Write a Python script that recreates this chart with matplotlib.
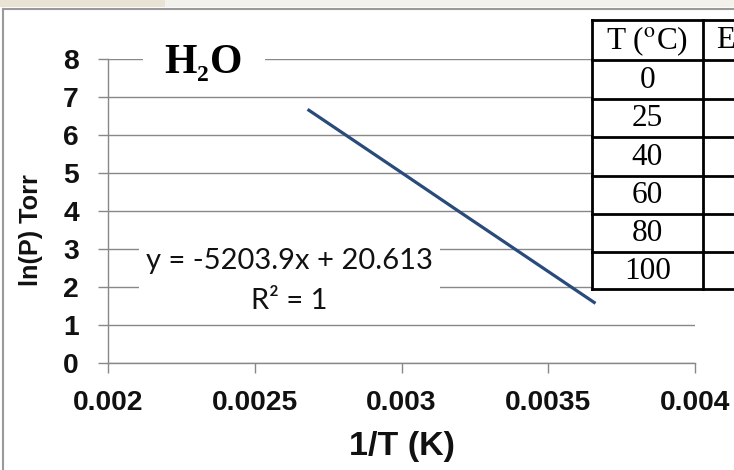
import matplotlib
matplotlib.use("Agg")
import matplotlib.pyplot as plt
from matplotlib.patches import Rectangle
from matplotlib.lines import Line2D

# Vapour pressure of water: ln(P / Torr) against 1/T
temps_c = [0, 25, 40, 60, 80, 100]
inv_t = [0.003661, 0.003354, 0.003193, 0.003002, 0.002832, 0.002680]
ln_p = [1.562, 3.159, 3.995, 4.993, 5.877, 6.667]

x_ticks = [0.002, 0.0025, 0.003, 0.0035, 0.004]
x_tick_labels = ["0.002", "0.0025", "0.003", "0.0035", "0.004"]
y_ticks = [0, 1, 2, 3, 4, 5, 6, 7, 8]

trend_text = "y = -5203.9x + 20.613"
r2_text = "R\u00b2 = 1"
table_header = ["T ($^{\\mathrm{o}}$C)", "E"]

W, H = 734, 470
plt.rcParams["mathtext.fontset"] = "stix"
fig = plt.figure(figsize=(W / 100, H / 100), dpi=100)
fig.patch.set_facecolor("white")


def fx(px):
    return px / W


def fy(py):
    return 1 - py / H


grid_col = "#888888"
bold_sans = "Liberation Sans"
text_col = "#111111"

ax = fig.add_axes([fx(108), fy(362.7), fx(695) - fx(108), fy(58.7) - fy(362.7)])
ax.set_facecolor("none")
ax.set_xlim(0.002, 0.004)
ax.set_ylim(0, 8)
ax.set_xticks(x_ticks)
ax.set_xticklabels(x_tick_labels)
ax.set_yticks(y_ticks)
for s in ("top", "right"):
    ax.spines[s].set_visible(False)
for s in ("left", "bottom"):
    ax.spines[s].set_color(grid_col)
    ax.spines[s].set_linewidth(1.0)
ax.grid(axis="y", color=grid_col, linewidth=1.0)
ax.set_axisbelow(True)
ax.tick_params(axis="both", direction="out", length=7.5, width=1.0, color=grid_col)
ax.tick_params(axis="y", pad=13.5)
ax.tick_params(axis="x", pad=12.5)
for lab in ax.get_xticklabels() + ax.get_yticklabels():
    lab.set_fontfamily(bold_sans)
    lab.set_fontweight("bold")
    lab.set_fontsize(20.3)
    lab.set_color(text_col)

ax.plot(inv_t, ln_p, color="#284B7B", linewidth=2.3, solid_capstyle="butt", zorder=3)

# Trendline equation
ax.text(0.002617, 2.15, trend_text + "\n" + r2_text, transform=ax.transData,
        ha="center", va="center", fontsize=21, fontfamily="Lato",
        linespacing=1.62, color=text_col,
        bbox=dict(facecolor="white", edgecolor="none", pad=5), zorder=4)

# Chart title: H, subscript 2, O
fig.patches.append(Rectangle((fx(143), fy(86)), fx(265) - fx(143), fy(36) - fy(86),
                             transform=fig.transFigure, facecolor="white",
                             edgecolor="none", zorder=2))
title_font = dict(fontfamily="Liberation Serif", fontweight="bold", color="black", zorder=3)
fig.text(fx(164.5), fy(73), "H", ha="left", va="baseline", fontsize=30, **title_font)
fig.text(fx(197), fy(81), "2", ha="left", va="baseline", fontsize=17, **title_font)
fig.text(fx(210), fy(73), "O", ha="left", va="baseline", fontsize=30, **title_font)

# Axis titles
fig.text(fx(31), fy(230), "ln(P) Torr", rotation=90, ha="center", va="center",
         fontsize=18.2, fontweight="bold", fontfamily=bold_sans, color=text_col)
fig.text(fx(402), fy(447), "1/T (K)", ha="center", va="center",
         fontsize=24.5, fontweight="bold", fontfamily=bold_sans, color=text_col)

# Data table
tl, tc, tr = 592, 703, 760
row_edges = [20, 60, 98.5, 137, 175.5, 214, 252, 289]
fig.patches.append(Rectangle((fx(tl), fy(row_edges[-1])), fx(tr) - fx(tl),
                             fy(row_edges[0]) - fy(row_edges[-1]),
                             transform=fig.transFigure, facecolor="white",
                             edgecolor="none", zorder=5))
for yy in row_edges:
    fig.lines.append(Line2D([fx(tl), fx(tr)], [fy(yy), fy(yy)], transform=fig.transFigure,
                            color="black", linewidth=2.0, zorder=6))
for xx in (tl, tc):
    fig.lines.append(Line2D([fx(xx), fx(xx)], [fy(row_edges[0]), fy(row_edges[-1])],
                            transform=fig.transFigure, color="black", linewidth=2.0, zorder=6))
cells = [table_header[0]] + [str(t) for t in temps_c]
for i, txt in enumerate(cells):
    yc = (row_edges[i] + row_edges[i + 1]) / 2
    fig.text(fx((tl + tc) / 2), fy(yc + 1), txt, ha="center", va="center",
             fontsize=22.5, fontfamily="Liberation Serif", color="black", zorder=7)
fig.text(fx(716), fy((row_edges[0] + row_edges[1]) / 2 + 1), table_header[1],
         ha="left", va="center", fontsize=22.5, fontfamily="Liberation Serif",
         color="black", zorder=7)

# Window strip and chart frame
fig.patches.append(Rectangle((0, fy(7)), fx(165), fy(0) - fy(7), transform=fig.transFigure,
                             facecolor="#E8E3D4", edgecolor="none", zorder=8))
fig.patches.append(Rectangle((fx(165), fy(7)), 1 - fx(165), fy(0) - fy(7),
                             transform=fig.transFigure, facecolor="#F3F1EC",
                             edgecolor="none", zorder=8))
fig.lines.append(Line2D([fx(3), 1], [fy(8.5), fy(8.5)], transform=fig.transFigure,
                        color="#9A9A9A", linewidth=1.5, zorder=9))
fig.lines.append(Line2D([fx(3), fx(3)], [fy(8.5), 0], transform=fig.transFigure,
                        color="#9A9A9A", linewidth=1.5, zorder=9))

fig.savefig("out.png", dpi=100)
